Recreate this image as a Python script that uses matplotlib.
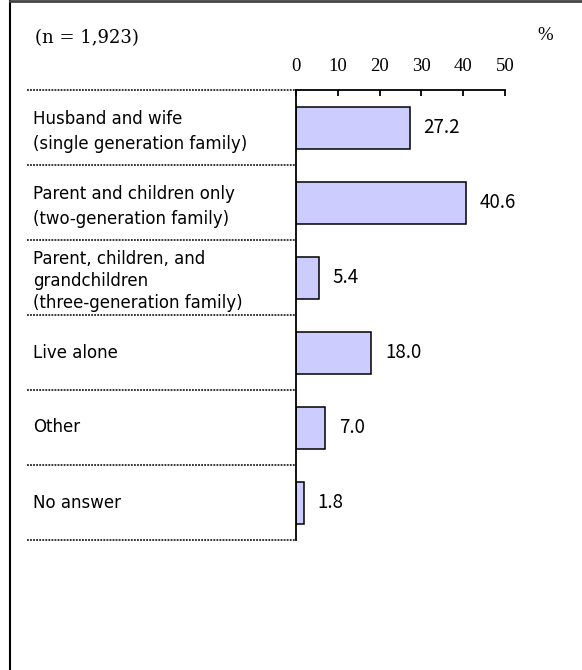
import matplotlib
matplotlib.use("Agg")
import matplotlib.pyplot as plt
from matplotlib.lines import Line2D
import numpy as np

# data
categories = [
    "Husband and wife\n(single generation family)",
    "Parent and children only\n(two-generation family)",
    "Parent, children, and\ngrandchildren\n(three-generation family)",
    "Live alone",
    "Other",
    "No answer",
]
values = [27.2, 40.6, 5.4, 18.0, 7.0, 1.8]
x_ticks = [0, 10, 20, 30, 40, 50]
sample_note = "(n = 1,923)"
unit_label = "%"

W, H = 582, 670
fig = plt.figure(figsize=(W / 100, H / 100), dpi=100)
fig.patch.set_facecolor("white")

# frame lines (left and top) of the original box
fig.add_artist(Line2D([10 / W, 10 / W], [0, 1], color="black", lw=1.5))
fig.add_artist(Line2D([10 / W, 1], [1 - 1 / H, 1 - 1 / H], color="#444444", lw=2))

ax = fig.add_axes([296 / W, 1 - 540 / H, 209 / W, 450 / H])
n = len(categories)
y = np.arange(n)
ax.barh(y, values, height=0.56, color="#CCCCFF", edgecolor="black", linewidth=1.1)
ax.set_xlim(0, 50)
ax.set_ylim(n - 0.5, -0.5)

# axis on top, ticks pointing into the plot
ax.xaxis.tick_top()
ax.set_xticks(x_ticks)
ax.tick_params(axis="x", direction="in", length=4, width=1.3, pad=11, labelsize=13.5)
for lbl in ax.get_xticklabels():
    lbl.set_family("Liberation Serif")
ax.set_yticks([])
for s in ["right", "bottom"]:
    ax.spines[s].set_visible(False)
for s in ["left", "top"]:
    ax.spines[s].set_linewidth(1.3)

# dotted row separators to the left of the axis
ax.hlines(np.arange(-0.5, n), xmin=-1.287, xmax=0, transform=ax.get_yaxis_transform(),
          clip_on=False, colors="black", linestyles=(0, (1.2, 0.8)), linewidth=1.1)

# category labels
for i, lab in enumerate(categories):
    lines = lab.count("\n") + 1
    ax.text(-1.258, i + (0.05 if lines > 1 else 0), lab, transform=ax.get_yaxis_transform(),
            ha="left", va="center", fontsize=12, family="DejaVu Sans",
            linespacing=1.5 if lines == 2 else 1.3)

# value labels
for i, v in enumerate(values):
    ax.annotate(f"{v:.1f}", xy=(v, i), xytext=(10, 0), textcoords="offset points",
                ha="left", va="center", fontsize=13.5, family="Noto Sans CJK JP")

fig.text(35 / W, 1 - 38 / H, sample_note, ha="left", va="center", fontsize=13,
         family="DejaVu Serif")
fig.text(545 / W, 1 - 35 / H, unit_label, ha="center", va="center", fontsize=13.5,
         family="Liberation Serif")

fig.savefig("out.png", dpi=100)
